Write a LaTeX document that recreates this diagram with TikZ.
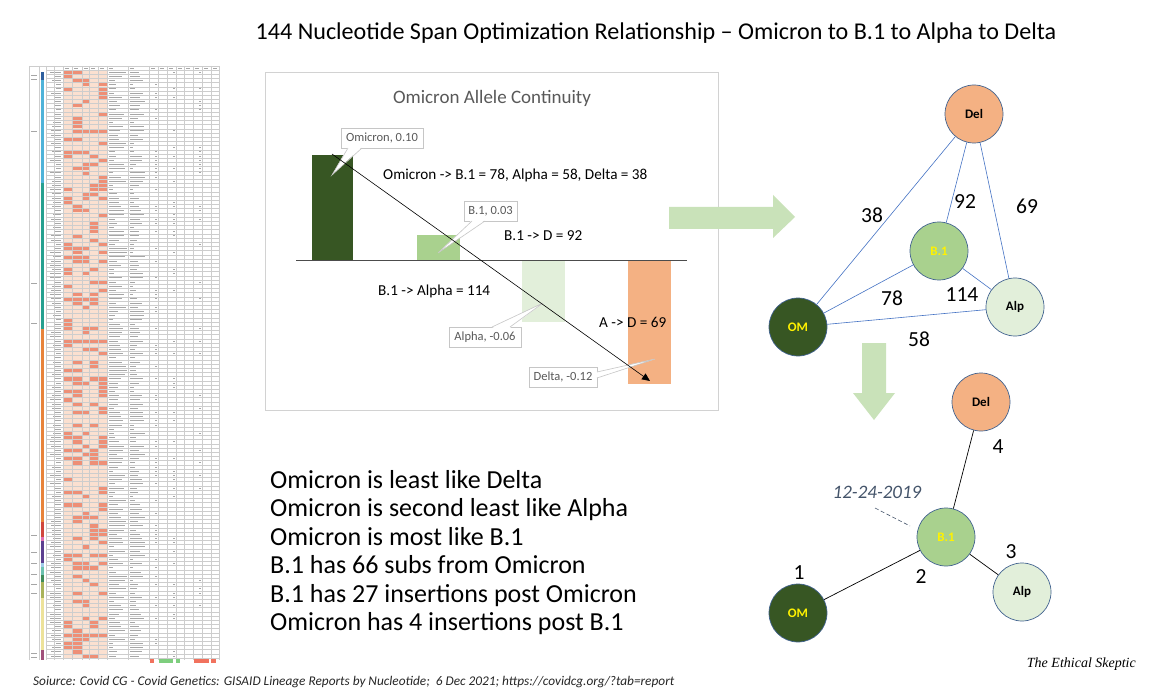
\documentclass[tikz,border=0pt]{standalone}
\usepackage{fontspec}
\setmainfont{Carlito}
\newfontfamily\sigfont{Liberation Serif}
\usetikzlibrary{arrows.meta}
\definecolor{omgreen}{HTML}{375623}
\definecolor{bgreen}{HTML}{A9D18E}
\definecolor{agreen}{HTML}{E2EFDA}
\definecolor{dsalmon}{HTML}{F4B183}
\definecolor{arrgreen}{HTML}{C9E2B9}
\definecolor{edgeblue}{HTML}{4472C4}
\definecolor{circborder}{HTML}{41628F}
\definecolor{calgray}{HTML}{595959}
\definecolor{datecol}{HTML}{44546A}
\definecolor{peach}{HTML}{FBE0D0}
\definecolor{cellred}{HTML}{EE8F76}
\definecolor{gridgray}{HTML}{CDCDCD}
\definecolor{markgray}{HTML}{A6A6A6}
\tikzset{
  circnode/.style={circle, minimum size=58pt, inner sep=0pt, draw=circborder, line width=0.7pt, font=\bfseries\fontsize{13}{15}\selectfont},
  bedge/.style={draw=edgeblue, line width=0.6pt},
  kedge/.style={draw=black, line width=0.7pt},
  numlbl/.style={font=\fontsize{21.5}{24}\selectfont, inner sep=0pt},
  listtxt/.style={font=\fontsize{26}{30}\selectfont, anchor=base west, inner sep=0pt},
  chartlbl/.style={font=\fontsize{15.2}{18}\selectfont, anchor=base west, inner sep=0pt},
  callbox/.style={draw=gray!45, fill=white, line width=0.6pt, text=calgray, font=\fontsize{12.5}{14}\selectfont, inner xsep=3pt, minimum height=20pt},
  wedge/.style={draw=gray!45, line width=0.6pt},
}
\begin{document}
\begin{tikzpicture}[x=1pt,y=-1pt]
\useasboundingbox (0,0) rectangle (1168,695);
\fill[white] (0,0) rectangle (1168,695);

% ---------------- Title ----------------
\node[font=\fontsize{24.1}{27}\selectfont, anchor=base, inner sep=0pt] (title) at (656,40) {144 Nucleotide Span Optimization Relationship – Omicron to B.1 to Alpha to Delta};

% ---------------- Spreadsheet thumbnail ----------------
\pgfmathsetseed{11}
\fill[peach] (63,70) rectangle (107,658);
\foreach \i in {0,...,139} {
  \pgfmathsetmacro\ya{70+\i*4.2}
  \pgfmathsetmacro\yb{\ya+4.2}
  \pgfmathsetmacro\ym{\ya+2.1}
  \foreach \xa/\xb in {63/72,72/82,82/89,89/98,98/107} {
    \pgfmathrandominteger{\r}{1}{100}
    \ifnum\r<33 \fill[cellred] (\xa+0.4,\ya+0.3) rectangle (\xb-0.4,\yb-0.3); \fi
  }
  \pgfmathrandominteger{\la}{5}{11}
  \draw[markgray, line width=0.8pt] (61-\la,\ym) -- (61,\ym);
  \pgfmathrandominteger{\lb}{4}{18}
  \draw[markgray, line width=0.8pt] (109,\ym) -- (109+\lb,\ym);
  \pgfmathrandominteger{\lc}{3}{15}
  \draw[markgray, line width=0.8pt] (130,\ym) -- (130+\lc,\ym);
  \pgfmathrandominteger{\ld}{1}{100}
  \ifnum\ld<40 \draw[markgray, line width=0.8pt] (155,\ym) -- (157,\ym); \fi
  \pgfmathrandominteger{\le}{1}{100}
  \ifnum\le<30 \draw[markgray, line width=0.8pt] (173,\ym) -- (175,\ym); \fi
  \pgfmathrandominteger{\lf}{1}{100}
  \ifnum\lf<25 \draw[markgray, line width=0.8pt] (199,\ym) -- (201,\ym); \fi
}
\foreach \i in {0,...,140} {
  \draw[gridgray, line width=0.3pt] (46,70+\i*4.2) -- (219,70+\i*4.2);
}
\draw[gridgray, line width=0.3pt] (29,66) -- (219,66);
\foreach \x in {29,39,46,54,63,72,82,89,98,107,128,149,158,167,176,184,193,202,211,219} {
  \draw[gridgray, line width=0.3pt] (\x,66) -- (\x,660);
}
\foreach \x in {63,72,82,89,98,107,128,149,158,167,176,184,193,202,211} {
  \draw[markgray, line width=0.8pt] (\x+2,68) -- (\x+6,68);
}
% colored stripe
\foreach \ya/\yb/\c in {72/80/2E5F9E, 80/183/4FB3D9, 183/329/26A08F, 329/522/E8833A, 522/537/D0463C, 537/541/E06DB0, 541/563/5B3F8F, 563/567/9FCBE8, 567/575/6CC2B0, 575/582/3E8C5A, 582/598/A9B35A, 598/650/EDE29A, 650/660/A0507A} {
  \definecolor{tmpc}{HTML}{\c}
  \fill[tmpc] (41.3,\ya) rectangle (43.7,\yb);
}
% left labels
\foreach \y in {75,79,131,283,323,535,552,563,574,584,593,653,657} {
  \draw[markgray, line width=0.8pt] (31,\y) -- (37,\y);
}
% bottom colored cells
\fill[cellred!80!red] (150,659) rectangle (154,663);
\fill[green!45!gray!70] (159,659) rectangle (173,663);
\fill[green!45!gray!70] (176,659) rectangle (180,663);
\fill[cellred!80!red] (194,659) rectangle (209,663);
\fill[cellred!80!red] (211,659) rectangle (216,663);

% ---------------- Chart ----------------
\draw[gray!35, line width=0.8pt] (265,72) rectangle (718,410);
\node[font=\fontsize{19}{22}\selectfont, text=calgray, anchor=base, inner sep=0pt] (ctitle) at (492,104) {Omicron Allele Continuity};
\fill[omgreen] (312,155) rectangle (353,260);
\fill[bgreen] (417,235) rectangle (460,260);
\fill[agreen] (522,260) rectangle (565,322);
\fill[dsalmon] (628,260) rectangle (671,384);
\draw[black!70, line width=0.8pt] (296,260) -- (687,260);

\node[chartlbl] (l1) at (383,179.5) {Omicron -> B.1 = 78, Alpha = 58, Delta = 38};
\node[chartlbl] (l2) at (504,241) {B.1 -> D = 92};
\node[chartlbl] (l3) at (378,296) {B.1 -> Alpha = 114};
\node[chartlbl] (l4) at (599,327) {A -> D = 69};

% callouts
\node[callbox, minimum width=82pt] (cOm) at (382,138) {Omicron, 0.10};
\fill[white] (348,147) -- (332,175) -- (362,147) -- cycle;
\draw[wedge] (348,148) -- (332,175) -- (362,148);
\node[callbox, minimum width=53pt] (cB) at (490.5,211.5) {B.1, 0.03};
\fill[white] (472,220) -- (438,253) -- (485,220) -- cycle;
\draw[wedge] (472,221) -- (438,253) -- (485,221);
\node[callbox, minimum width=72pt] (cA) at (485,337) {Alpha, -0.06};
\fill[white] (492,328) -- (543,303) -- (510,328) -- cycle;
\draw[wedge] (492,327) -- (543,303) -- (510,327);
\node[callbox, minimum width=68pt] (cD) at (563,377) {Delta, -0.12};
\fill[white] (596,372) -- (655,359) -- (596,378) -- cycle;
\draw[wedge] (597,372) -- (655,359) -- (597,378);

\coordinate (arS) at (332,154);
\coordinate (arE) at (650,381);
\draw[black, line width=0.6pt, -{Triangle[length=8pt,width=7pt]}] (arS) -- (arE);

% ---------------- big green arrows ----------------
\fill[arrgreen] (669,207) -- (773,207) -- (773,195) -- (795,217) -- (773,238) -- (773,229) -- (669,229) -- cycle;
\fill[arrgreen] (862,343) -- (886,343) -- (886,393) -- (895,393) -- (874,420) -- (853,393) -- (862,393) -- cycle;

% ---------------- Top graph ----------------
\node[circnode, fill=dsalmon, text=black] (tDel) at (974,114) {Del};
\node[circnode, fill=bgreen, text=yellow] (tB) at (939,251) {B.1};
\node[circnode, fill=agreen, text=black] (tAlp) at (1015,307) {Alp};
\node[circnode, fill=omgreen, text=yellow] (tOM) at (798,327) {OM};
\draw[bedge] (tOM) -- (tDel);
\draw[bedge] (tDel) -- (tB);
\draw[bedge] (tDel) -- (tAlp);
\draw[bedge] (tOM) -- (tB);
\draw[bedge] (tB) -- (tAlp);
\draw[bedge] (tOM) -- (tAlp);
\node[numlbl] (n38) at (872,215) {38};
\node[numlbl] (n92) at (965,202) {92};
\node[numlbl] (n69) at (1027,206) {69};
\node[numlbl] (n78) at (892,298) {78};
\node[numlbl] (n114) at (962,295) {114};
\node[numlbl] (n58) at (919,339) {58};

% ---------------- Bottom graph ----------------
\node[circnode, fill=dsalmon, text=black] (bDel) at (981,402) {Del};
\node[circnode, fill=bgreen, text=yellow] (bB) at (946,537) {B.1};
\node[circnode, fill=agreen, text=black] (bAlp) at (1022,592) {Alp};
\node[circnode, fill=omgreen, text=yellow] (bOM) at (798,613) {OM};
\draw[kedge] (bB) -- (bDel);
\draw[kedge] (bB) -- (bOM);
\draw[kedge] (bB) -- (bAlp);
\node[numlbl] (m4) at (998,447) {4};
\node[numlbl] (m1) at (799,573) {1};
\node[numlbl] (m2) at (921,577) {2};
\node[numlbl] (m3) at (1011,552) {3};
\node[font=\itshape\fontsize{19}{22}\selectfont, text=datecol, inner sep=0pt] (date) at (877,492) {12-24-2019};
\coordinate (dA) at (875,508);
\coordinate (dB) at (910,526);
\draw[datecol, line width=0.6pt, dash pattern=on 4pt off 2.5pt] (dA) -- (dB);

% ---------------- Text list ----------------
\node[listtxt] (t1) at (270,488) {Omicron is least like Delta};
\node[listtxt] (t2) at (270,516.5) {Omicron is second least like Alpha};
\node[listtxt] (t3) at (270,545) {Omicron is most like B.1};
\node[listtxt] (t4) at (270,573.5) {B.1 has 66 subs from Omicron};
\node[listtxt] (t5) at (270,602) {B.1 has 27 insertions post Omicron};
\node[listtxt] (t6) at (270,630.5) {Omicron has 4 insertions post B.1};

% ---------------- Footer ----------------
\node[font=\itshape\fontsize{13.3}{15}\selectfont, anchor=base west, inner sep=0pt, text=black!85] (src) at (33,685) {Soiurce: Covid CG - Covid Genetics: GISAID Lineage Reports by Nucleotide;\ \ 6 Dec 2021; https://covidcg.org/?tab=report};
\node[font=\sigfont\itshape\fontsize{14}{16}\selectfont, anchor=base east, inner sep=0pt] (sig) at (1136,667) {The Ethical Skeptic};
\end{tikzpicture}
\end{document}
